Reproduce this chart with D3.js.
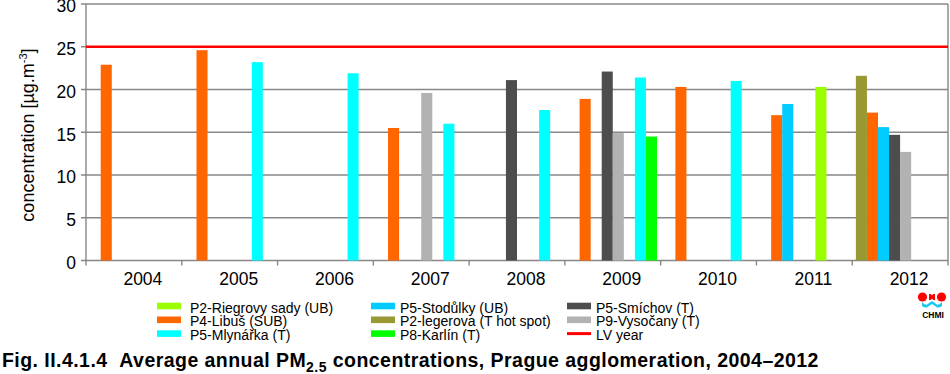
<!DOCTYPE html>
<html>
<head>
<meta charset="utf-8">
<script src="https://cdn.jsdelivr.net/npm/d3@7"></script>
<style>
  html, body { margin: 0; padding: 0; background: #fff; }
  svg { display: block; font-family: "Liberation Sans", Arial, sans-serif; }
</style>
</head>
<body>
<svg id="chart"></svg>
<script>
const years = ['2004', '2005', '2006', '2007', '2008', '2009', '2010', '2011', '2012'];
const yTicks = [0, 5, 10, 15, 20, 25, 30];
const limitValue = 25;

// slot order inside each year group
const slotOrder = ['iegerova', 'libus', 'stodulky', 'smichov', 'vysocany', 'riegrovy', 'mlynarka', 'karlin'];

const riegrovy = [null, null, null, null, null, null, null, 20.3, null];
const libus    = [22.9, 24.6, null, 15.5, null, 18.9, 20.3, 17.0, 17.3];
const mlynarka = [null, 23.2, 21.9, 16.0, 17.6, 21.4, 21.0, null, null];
const stodulky = [null, null, null, null, null, null, null, 18.3, 15.6];
const iegerova = [null, null, null, null, null, null, null, null, 21.6];
const karlin   = [null, null, null, null, null, 14.5, null, null, null];
const smichov  = [null, null, null, null, 21.1, 22.1, null, null, 14.7];
const vysocany = [null, null, null, 19.6, null, 14.9, null, null, 12.7];

const series = [
  { key: 'riegrovy', name: 'P2-Riegrovy sady (UB)', color: '#99FF00', values: riegrovy },
  { key: 'libus', name: 'P4-Libuš (SUB)', color: '#FF6600', values: libus },
  { key: 'mlynarka', name: 'P5-Mlynářka (T)', color: '#00FFFF', values: mlynarka },
  { key: 'stodulky', name: 'P5-Stodůlky (UB)', color: '#00CCFF', values: stodulky },
  { key: 'iegerova', name: 'P2-legerova (T hot spot)', color: '#999933', values: iegerova },
  { key: 'karlin', name: 'P8-Karlín (T)', color: '#00FF00', values: karlin },
  { key: 'smichov', name: 'P5-Smíchov (T)', color: '#4D4D4D', values: smichov },
  { key: 'vysocany', name: 'P9-Vysočany (T)', color: '#B2B2B2', values: vysocany }
];

const width = 950;
const height = 374;
const plot = { left: 86, right: 948, top: 4, bottom: 260.5 };
const gridColor = '#878787';

const svg = d3.select('#chart')
  .attr('width', width)
  .attr('height', height)
  .attr('viewBox', [0, 0, width, height]);

// Scales
const x0 = d3.scaleBand().domain(years).range([plot.left, plot.right]).padding(0);
const x1 = d3.scaleBand().domain(slotOrder).range([0, x0.bandwidth()])
  .paddingInner(0).paddingOuter(0.33);
const y = d3.scaleLinear().domain([0, 30]).range([plot.bottom, plot.top]);

// Gridlines
svg.append('g')
  .selectAll('line')
  .data(yTicks)
  .join('line')
  .attr('x1', plot.left - 5)
  .attr('x2', plot.right)
  .attr('y1', d => y(d))
  .attr('y2', d => y(d))
  .attr('stroke', gridColor)
  .attr('stroke-width', 1.4);

// Left and right frame
svg.append('line')
  .attr('x1', plot.left).attr('x2', plot.left)
  .attr('y1', plot.top).attr('y2', plot.bottom)
  .attr('stroke', gridColor).attr('stroke-width', 1.4);
svg.append('line')
  .attr('x1', plot.right).attr('x2', plot.right)
  .attr('y1', plot.top).attr('y2', plot.bottom + 5)
  .attr('stroke', gridColor).attr('stroke-width', 1.4);

// X ticks at band boundaries
svg.append('g')
  .selectAll('line')
  .data(years)
  .join('line')
  .attr('x1', d => x0(d))
  .attr('x2', d => x0(d))
  .attr('y1', plot.bottom)
  .attr('y2', plot.bottom + 5)
  .attr('stroke', gridColor)
  .attr('stroke-width', 1.4);

// Y tick labels
svg.append('g')
  .selectAll('text')
  .data(yTicks)
  .join('text')
  .attr('x', plot.left - 10)
  .attr('y', d => y(d) + 8.3)
  .attr('text-anchor', 'end')
  .style('font-size', '17.5px')
  .style('fill', '#000')
  .text(d => d);

// X labels (shifted right like the original)
svg.append('g')
  .selectAll('text')
  .data(years)
  .join('text')
  .attr('x', d => x0(d) + x0.bandwidth() / 2 + 9)
  .attr('y', 284.5)
  .attr('text-anchor', 'middle')
  .style('font-size', '17.5px')
  .style('fill', '#000')
  .text(d => d);

// Y axis title
const yTitle = svg.append('text')
  .attr('transform', 'translate(34,135) rotate(-90)')
  .attr('text-anchor', 'middle')
  .style('font-size', '18px')
  .style('fill', '#000');
yTitle.append('tspan').text('concentration [µg.m');
yTitle.append('tspan').attr('dy', -7).style('font-size', '11px').text('-3');
yTitle.append('tspan').attr('dy', 7).text(']');

// Bars
const barData = [];
series.forEach(s => {
  s.values.forEach((v, i) => {
    if (v != null) barData.push({ key: s.key, color: s.color, year: years[i], value: v });
  });
});

svg.append('g')
  .selectAll('rect')
  .data(barData)
  .join('rect')
  .attr('x', d => x0(d.year) + x1(d.key))
  .attr('y', d => y(d.value))
  .attr('width', x1.bandwidth())
  .attr('height', d => y(0) - y(d.value))
  .attr('fill', d => d.color);

// Limit value line
svg.append('line')
  .attr('x1', plot.left)
  .attr('x2', plot.right)
  .attr('y1', y(limitValue))
  .attr('y2', y(limitValue))
  .attr('stroke', '#FF0000')
  .attr('stroke-width', 2.7);

// Legend: three columns of three rows
const legendCols = [157, 371, 567];
const legendRows = [306, 319.8, 333.6];
const legendItems = series.map(s => ({ name: s.name, color: s.color, type: 'rect' }));
legendItems.push({ name: 'LV year', color: '#FF0000', type: 'line' });

const legend = svg.append('g')
  .selectAll('g')
  .data(legendItems)
  .join('g')
  .attr('transform', (d, i) => `translate(${legendCols[Math.floor(i / 3)]},${legendRows[i % 3]})`);

legend.filter(d => d.type === 'rect')
  .append('rect')
  .attr('x', 0).attr('y', -3.3)
  .attr('width', 24).attr('height', 6.6)
  .attr('fill', d => d.color);

legend.filter(d => d.type === 'line')
  .append('rect')
  .attr('x', 0).attr('y', -1.5)
  .attr('width', 24).attr('height', 3)
  .attr('fill', d => d.color);

legend.append('text')
  .attr('x', (d, i) => i < 3 ? 33 : 29)
  .attr('y', 6.5)
  .style('font-size', '14px')
  .style('fill', '#000')
  .text(d => d.name);

// CHMI logo
const logo = svg.append('g').attr('transform', 'translate(932,297)');
logo.append('circle').attr('cx', -9.5).attr('cy', 0).attr('r', 4.6).attr('fill', '#FF0000');
logo.append('circle').attr('cx', 9.5).attr('cy', 0).attr('r', 4.6).attr('fill', '#FF0000');
logo.append('path').attr('d', 'M-3,-3.2 A3.2,3.2 0 0,1 -3,3.2 Z').attr('fill', '#FF0000');
logo.append('path').attr('d', 'M3,-3.2 A3.2,3.2 0 0,0 3,3.2 Z').attr('fill', '#FF0000');
logo.append('path')
  .attr('d', 'M-10,5 Q-6,10 -3,6 L0,4 L3,6 Q6,10 10,5 L10,9 Q6,12 3,9 L0,7 L-3,9 Q-6,12 -10,9 Z')
  .attr('fill', '#1AC8F0');
logo.append('text')
  .attr('x', 1).attr('y', 21)
  .attr('text-anchor', 'middle')
  .style('font-size', '8.5px')
  .style('font-weight', 'bold')
  .style('fill', '#000')
  .text('CHMI');

// Caption
const caption = svg.append('text')
  .attr('x', 2)
  .attr('y', 367)
  .style('font-size', '19.5px')
  .style('letter-spacing', '0.45px')
  .style('font-weight', 'bold')
  .style('fill', '#000');
caption.append('tspan').text('Fig. II.4.1.4\u00a0\u00a0Average annual PM');
caption.append('tspan').attr('dy', 4.5).style('font-size', '14px').text('2.5');
caption.append('tspan').attr('dy', -4.5).text(' concentrations, Prague agglomeration, 2004–2012');
</script>
</body>
</html>
